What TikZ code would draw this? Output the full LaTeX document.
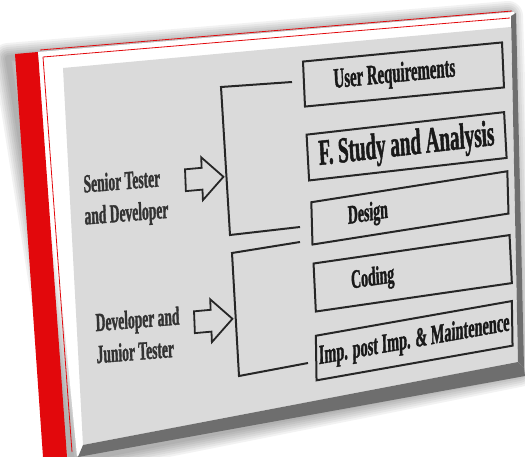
\documentclass[tikz,border=0pt]{standalone}
\usepackage{fontspec}
\setmainfont{Liberation Serif}[FakeStretch=0.52, BoldFeatures={FakeBold=1.2}]
\usetikzlibrary{shapes.arrows, calc}

\definecolor{spine}{RGB}{226,8,12}
\definecolor{panel}{RGB}{218,218,218}
\definecolor{edge}{RGB}{110,110,110}

\tikzset{
  stage/.style={draw=black!85, line width=2pt, inner sep=0pt, text=black!90,
                font=\bfseries\fontsize{#1}{#1}\selectfont},
  role/.style={align=left, inner sep=0pt, text=black!80,
               font=\bfseries\fontsize{26}{32}\selectfont},
  handoff/.style={single arrow, draw=black!85, line width=1.8pt, inner sep=0pt,
                  minimum height=38pt, minimum width=38pt,
                  single arrow head extend=10.5pt, single arrow head indent=0pt},
  bracket/.style={line width=2pt, black!85},
}

\begin{document}
\begin{tikzpicture}[x=1pt, y=1pt]
    \useasboundingbox (0,0) rectangle (525,-457);

    % soft shadow round the slab
    \foreach \w in {30,26,...,6}
        \draw[line width=\w pt, black, opacity=0.05, line join=round]
            (8,-58) -- (508,-16) -- (519,-372) -- (72,-461) -- cycle;

    % red spine, front face and the slab's thickness
    \fill[spine] (15,-54) -- (38,-52) -- (67,-457) -- (43,-457) -- cycle;
    \fill[white] (38,-52) -- (514,-12) -- (521,-366) -- (77,-456) -- cycle;
    \fill[panel] (63,-68) -- (511,-27) -- (518,-362) -- (83,-445) -- cycle;
    \fill[edge] (511,-16) -- (516,-13) -- (524,-368) -- (518,-362) -- cycle;
    \fill[edge] (83,-445) -- (518,-362) -- (524,-368) -- (525,-376) -- (78,-457) -- cycle;

    % red trims
    \draw[spine, line width=0.8pt] (40,-50) -- (512,-11);
    \draw[spine, line width=0.8pt] (43,-57) -- (510,-18);
    \draw[spine, line width=0.8pt] (43,-57) -- (72,-452);

    % phase boxes
    \node[stage=28.4, minimum width=199pt, minimum height=45pt,
          cm={1,0.096,-0.044,1,(0,0)}] (ureq) at (403.5,-74.5) {\raisebox{-3pt}{User Requirements}\hspace*{18pt}};
    \node[stage=36.5, minimum width=197.5pt, minimum height=45.8pt,
          cm={1,0.114,-0.055,1,(0,0)}] (study) at (406.6,-146.3) {F. Study and Analysis};
    \node[stage=26.6, minimum width=196pt, minimum height=42.3pt,
          cm={1,0.158,-0.028,1,(0,0)}] (design) at (409.9,-207.9) {Design\hspace*{84pt}};
    \node[stage=26.6, minimum width=196pt, minimum height=48pt,
          cm={1,0.145,-0.048,1,(0,0)}] (coding) at (412.7,-273.3) {Coding\hspace*{80pt}};
    \node[stage=27.5, minimum width=196pt, minimum height=44.6pt,
          cm={1,0.177,-0.015,1,(0,0)}] (maint) at (414.2,-340.7) {Imp. post Imp. \& Maintenence};

    % who works on which phases
    \node[role, cm={1,0.08,-0.03,1,(0,0)}] (senior) at (126,-199) {Senior Tester\\and Developer};
    \node[role, cm={1,0.08,-0.03,1,(0,0)}] (junior) at (138,-335) {Developer and\\Junior Tester};

    \node[handoff, cm={1,0.09,-0.04,1,(0,0)}] (toSenior) at (199,-179) {\rule{0pt}{20pt}};
    \node[handoff, cm={1,0.09,-0.04,1,(0,0)}] (toJunior) at (208,-321) {\rule{0pt}{20pt}};

    % brackets
    \coordinate (ureq-in) at (292,-82);
    \coordinate (design-in) at (300,-227);
    \coordinate (design-out) at (300,-242);
    \coordinate (maint-in) at (308,-363);
    \draw[bracket] (ureq-in) -- (221,-87) -- (230,-235) -- (design-in);
    \draw[bracket] (design-out) -- (232,-253) -- (239,-376) -- (maint-in);
\end{tikzpicture}
\end{document}
